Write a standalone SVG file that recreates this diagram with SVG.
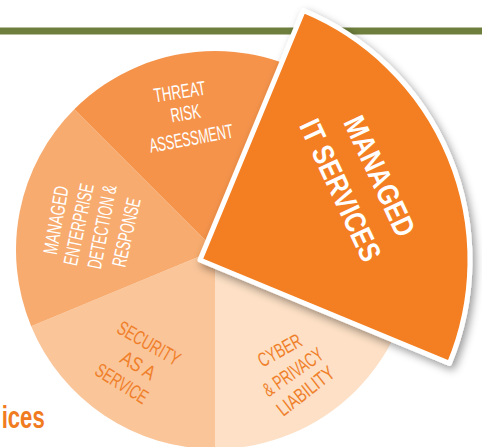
<svg xmlns="http://www.w3.org/2000/svg" width="482" height="447" viewBox="0 0 482 447">
  <defs>
    <style>
      .lbl { font-family: "Liberation Sans", Arial, sans-serif; font-size: 20px; text-anchor: middle; }
      .w { fill: #ffffff; }
      .o { fill: #F07F2A; }
      .big { font-family: "Liberation Sans", Arial, sans-serif; font-size: 30px; font-weight: bold; fill: #ffffff; text-anchor: middle; }
    </style>
    <filter id="shadow" x="-20%" y="-20%" width="140%" height="140%">
      <feDropShadow dx="3" dy="4" stdDeviation="4" flood-color="#000000" flood-opacity="0.4"/>
    </filter>
  </defs>
  <rect width="482" height="447" fill="#ffffff"/>
  <rect x="0" y="27.5" width="482" height="7" fill="#6E7F3D"/>

  <g id="security">
    <path d="M215,250 L215,449 A199,199 0 0 1 31.15,326.15 Z" fill="#FAC599"/>
    <text class="lbl o" transform="translate(149,343) rotate(30)" y="7.2" textLength="69" lengthAdjust="spacingAndGlyphs">SECURITY</text>
    <text class="lbl o" transform="translate(138.3,365) rotate(31)" y="7.2" textLength="37" lengthAdjust="spacingAndGlyphs">AS A</text>
    <text class="lbl o" transform="translate(122,383.3) rotate(32)" y="7.2" textLength="58" lengthAdjust="spacingAndGlyphs">SERVICE</text>
  </g>
  <g id="medr">
    <path d="M215,250 L31.15,326.15 A199,199 0 0 1 74.29,109.29 Z" fill="#F7AB6E"/>
    <text class="lbl w" transform="translate(55.7,220) rotate(-80)" y="7.2" textLength="69" lengthAdjust="spacingAndGlyphs">MANAGED</text>
    <text class="lbl w" transform="translate(78.3,224.3) rotate(-78)" y="7.2" textLength="83" lengthAdjust="spacingAndGlyphs">ENTERPRISE</text>
    <text class="lbl w" transform="translate(101.7,226.7) rotate(-79)" y="7.2" textLength="85" lengthAdjust="spacingAndGlyphs">DETECTION &amp;</text>
    <text class="lbl w" transform="translate(126,232.3) rotate(-77)" y="7.2" textLength="70" lengthAdjust="spacingAndGlyphs">RESPONSE</text>
  </g>
  <g id="threat">
    <path d="M215,250 L74.29,109.29 A199,199 0 0 1 355.71,109.29 Z" fill="#F5934B"/>
    <text class="lbl w" transform="translate(180.8,98.5) rotate(-9)" textLength="52" lengthAdjust="spacingAndGlyphs">THREAT</text>
    <text class="lbl w" transform="translate(186.7,120) rotate(-10)" textLength="30" lengthAdjust="spacingAndGlyphs">RISK</text>
    <text class="lbl w" transform="translate(192.5,145) rotate(-10.4)" textLength="85" lengthAdjust="spacingAndGlyphs">ASSESSMENT</text>
  </g>
  <g id="cyber">
    <path d="M215,250 L414,250 A199,199 0 0 1 215,449 Z" fill="#FDE0C5"/>
    <text class="lbl o" transform="translate(279.5,350) rotate(-29)" y="7.2" textLength="47" lengthAdjust="spacingAndGlyphs">CYBER</text>
    <text class="lbl o" transform="translate(292.7,371.7) rotate(-35)" y="7.2" textLength="69" lengthAdjust="spacingAndGlyphs">&amp; PRIVACY</text>
    <text class="lbl o" transform="translate(305.3,390.7) rotate(-38)" y="7.2" textLength="67" lengthAdjust="spacingAndGlyphs">LIABILITY</text>
  </g>
  <g id="managed-it">
    <path d="M200,260 L303.32,10.55 A270,270 0 0 1 449.45,363.32 Z" fill="#F47E20" stroke="#ffffff" stroke-width="5" stroke-linejoin="round" filter="url(#shadow)"/>
    <text class="big" transform="translate(380,176) rotate(65)" y="10.7" textLength="129" lengthAdjust="spacingAndGlyphs">MANAGED</text>
    <text class="big" transform="translate(340.7,190) rotate(65)" y="10.7" textLength="153" lengthAdjust="spacingAndGlyphs">IT SERVICES</text>
  </g>
  <g id="connectors"></g>
  <text x="1.7" y="427.7" font-family="Liberation Sans, Arial, sans-serif" font-size="31" font-weight="bold" fill="#F07B21" textLength="43" lengthAdjust="spacingAndGlyphs">ices</text>
</svg>
